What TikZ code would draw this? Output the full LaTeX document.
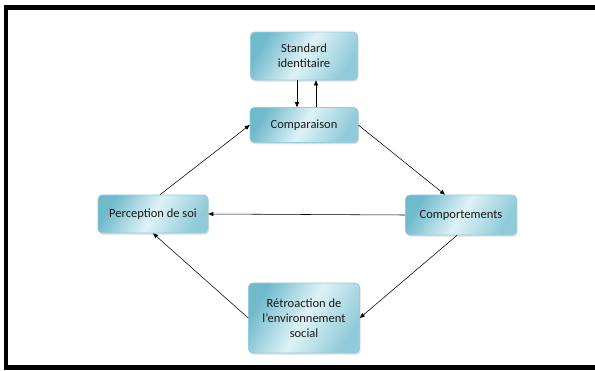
\documentclass[tikz,border=0pt]{standalone}
\usepackage{fontspec}
\setmainfont{Carlito}
\usetikzlibrary{arrows.meta,shadows}
\definecolor{boxdark}{RGB}{112,186,204}
\definecolor{boxlight}{RGB}{222,242,247}
\definecolor{boxedge}{RGB}{150,205,218}
\definecolor{txt}{RGB}{25,25,25}
\tikzset{
  box/.style={draw=boxedge, line width=0.6pt, rounded corners=4pt,
    left color=boxdark, right color=boxdark!70!boxlight, middle color=boxlight, shading angle=60,
    drop shadow={shadow xshift=1pt, shadow yshift=-1.5pt, opacity=0.25},
    text=txt, font=\fontsize{12.5}{15}\selectfont, align=center, inner sep=0pt},
  conn/.style={line width=0.55pt, -{Triangle[length=5pt,width=4pt]}},
}
\begin{document}
\begin{tikzpicture}[x=1pt,y=-1pt]
\useasboundingbox (0,0) rectangle (595,370);
\fill[white] (0,0) rectangle (595,370);
\fill[black] (4,5) rectangle (595,10);
\fill[black] (4,5) rectangle (8,370);
\fill[black] (4,365) rectangle (595,370);
\node[box, minimum width=107pt, minimum height=48pt] (std) at (304,56) {Standard\\identitaire};
\node[box, minimum width=108pt, minimum height=35pt] (cmp) at (304,125) {Comparaison};
\node[box, minimum width=110pt, minimum height=38pt] (per) at (153,214) {Perception de soi};
\node[box, minimum width=111pt, minimum height=40pt] (com) at (461,215) {Comportements};
\node[box, minimum width=111pt, minimum height=70pt] (ret) at (304,318) {Rétroaction de\\l’environnement\\social};
\coordinate (pin) at ([xshift=7pt]per.north);
\coordinate (cin) at ([xshift=-16pt]com.north);
\coordinate (cout) at ([xshift=-4pt]com.south);
\draw[conn] (std.south -| 297,0) -- (cmp.north -| 297,0);
\draw[conn] (cmp.north -| 316,0) -- (std.south -| 316,0);
\draw[conn] (pin) -- (cmp.west);
\draw[conn] (cmp.east) -- (cin);
\draw[conn] (com.west) -- (per.east);
\draw[conn] (cout) -- (ret.east);
\draw[conn] (ret.west) -- (per.south);
\end{tikzpicture}
\end{document}
